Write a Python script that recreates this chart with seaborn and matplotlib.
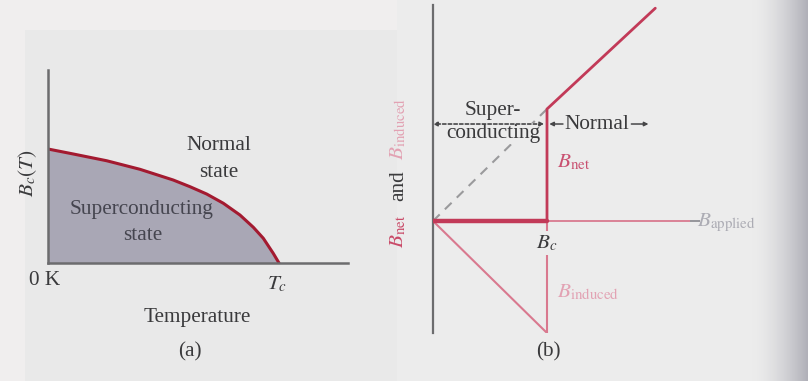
import numpy as np
import matplotlib
matplotlib.use("Agg")
import matplotlib.pyplot as plt
from matplotlib.patches import Rectangle
import seaborn as sns

# (a) critical field curve: temperature in units of Tc, field in units of Bc(0)
temp = [0.0, 0.110, 0.254, 0.398, 0.542, 0.615, 0.687, 0.759, 0.831,
        0.889, 0.932, 0.975, 1.0]
bc_curve = [1.0, 0.956, 0.897, 0.822, 0.728, 0.669, 0.605, 0.524, 0.421,
            0.313, 0.217, 0.085, 0.0]

# (b) net and induced field against applied field, in units of Bc
net_applied = [0.0, 1.0, 1.0, 1.95]
net_field = [0.0, 0.0, 1.0, 1.9]
ind_applied = [0.0, 1.0, 1.0]
ind_field = [0.0, -1.0, 0.0]
ref_applied = [0.0, 1.0]
ref_field = [0.0, 1.0]

sns.set_theme(style="white")
plt.rcParams["font.family"] = ["Liberation Serif", "DejaVu Serif"]
plt.rcParams["mathtext.fontset"] = "stix"

W, H = 808, 381
BG = "#edecec"
TXT = "#3a3a3c"
RED = "#c23a58"
DARKRED = "#a31a30"
PINK = "#d9798f"
LIGHTPINK = "#e2a2b3"
FS = 15.3

fig = plt.figure(figsize=(W / 100, H / 100), dpi=100, facecolor=BG)

# page background
bg = fig.add_axes([0, 0, 1, 1], zorder=-10)
bg.set_xlim(0, W)
bg.set_ylim(H, 0)
bg.axis("off")
bg.add_patch(Rectangle((0, 0), W, H, color="#f0eeee", lw=0))
bg.add_patch(Rectangle((25, 30), 372, H - 30, color="#e9e9e9", lw=0))
bg.add_patch(Rectangle((397, 0), W - 397, H, color="#ececec", lw=0))
g0 = np.array([0xec, 0xec, 0xec]) / 255
g1 = np.array([0xb0, 0xb0, 0xb8]) / 255
t = np.linspace(0, 1, 64) ** 1.6
grad = (g0[None, :] * (1 - t[:, None]) + g1[None, :] * t[:, None])[None, :, :]
bg.imshow(grad, extent=(752, W, H, 0), aspect="auto", zorder=1)


def px_axes(x0, y0, x1, y1):
    ax = fig.add_axes([x0 / W, 1 - y1 / H, (x1 - x0) / W, (y1 - y0) / H])
    ax.set_facecolor("none")
    ax.set_xticks([])
    ax.set_yticks([])
    return ax


# ---------------- (a) ----------------
ax_a = px_axes(48, 70, 348, 263)
ax_a.set_xlim(0, 300 / 231)
ax_a.set_ylim(0, 193 / 114)
for side in ("top", "right"):
    ax_a.spines[side].set_visible(False)
for side in ("left", "bottom"):
    ax_a.spines[side].set_color("#6c6c6e")
    ax_a.spines[side].set_linewidth(1.8)

ax_a.fill_between(temp, bc_curve, 0, color="#a9a7b5", lw=0)
sns.lineplot(x=temp, y=bc_curve, ax=ax_a, color=DARKRED, lw=2.2,
             sort=False, estimator=None)

ax_a.text(0.74, 1.035, "Normal", ha="center", va="center", fontsize=FS, color=TXT)
ax_a.text(0.74, 0.797, "state", ha="center", va="center", fontsize=FS, color=TXT)
ax_a.text(0.403, 0.465, "Superconducting", ha="center", va="center",
          fontsize=FS, color="#45454f")
ax_a.text(0.41, 0.237, "state", ha="center", va="center", fontsize=FS, color="#45454f")
ax_a.text(-0.013, -0.15, "0 K", ha="center", va="center", fontsize=FS,
          color=TXT, clip_on=False)
ax_a.text(0.99, -0.185, r"$T_c$", ha="center", va="center", fontsize=FS,
          color=TXT, clip_on=False)
ax_a.text(0.645, -0.475, "Temperature", ha="center", va="center", fontsize=FS,
          color=TXT, clip_on=False)
ax_a.text(0.615, -0.78, "(a)", ha="center", va="center", fontsize=FS,
          color=TXT, clip_on=False)
ax_a.text(-0.09, 0.79, r"$B_c(T)$", ha="center", va="center", fontsize=FS,
          color=TXT, rotation=90, clip_on=False)

# ---------------- (b) ----------------
ax_b = px_axes(433, 5, 760, 333)
ax_b.set_xlim(0, 327 / 114)
ax_b.set_ylim(-1.0, 216 / 112)
for side in ("top", "right", "bottom"):
    ax_b.spines[side].set_visible(False)
ax_b.spines["left"].set_color("#6c6c6e")
ax_b.spines["left"].set_linewidth(1.6)

# applied-field axis
ax_b.hlines(0, 0, 2.25, color=PINK, lw=1.3, zorder=1)
ax_b.hlines(0, 2.25, 2.34, color="#8e8e94", lw=1.3, zorder=1)
ax_b.text(2.32, -0.02, r"$B_{\rm applied}$", ha="left", va="center",
          fontsize=FS, color="#9c9ca6", alpha=0.8, clip_on=False)

sns.lineplot(x=ref_applied, y=ref_field, ax=ax_b, color="#9a9a9c", lw=1.5,
             sort=False, estimator=None, zorder=2)
ax_b.lines[-1].set_dashes((4.5, 3.5))
sns.lineplot(x=ind_applied, y=ind_field, ax=ax_b, color=PINK, lw=1.5,
             sort=False, estimator=None, zorder=3)
sns.lineplot(x=net_applied, y=net_field, ax=ax_b, color=RED, lw=2.0,
             sort=False, estimator=None, zorder=4)
sns.lineplot(x=net_applied[:2], y=net_field[:2], ax=ax_b, color=RED, lw=3.2,
             sort=False, estimator=None, zorder=4)

# region markers
yr = 0.866
ax_b.annotate("", xy=(0.0, yr), xytext=(0.975, yr),
              arrowprops=dict(arrowstyle="<|-|>", color="#464648", lw=1.2,
                              ls=(0, (2.0, 1.4)), mutation_scale=6,
                              shrinkA=0, shrinkB=0), zorder=7)
ax_b.annotate("", xy=(1.02, yr), xytext=(1.14, yr),
              arrowprops=dict(arrowstyle="-|>", color="#464648", lw=1.1,
                              mutation_scale=6, shrinkA=0, shrinkB=0), zorder=7)
ax_b.annotate("", xy=(1.89, yr), xytext=(1.74, yr),
              arrowprops=dict(arrowstyle="-|>", color="#464648", lw=1.1,
                              mutation_scale=6, shrinkA=0, shrinkB=0), zorder=7)
ax_b.text(0.526, 0.985, "Super-", ha="center", va="center", fontsize=FS,
          color=TXT, zorder=6)
ax_b.text(0.526, 0.78, "conducting", ha="center", va="center", fontsize=FS,
          color=TXT, zorder=6,
          bbox=dict(boxstyle="square,pad=0.05", fc="#ececec", ec="none"))
ax_b.text(1.15, yr, "Normal", ha="left", va="center", fontsize=FS,
          color=TXT, zorder=6)

ax_b.text(1.085, 0.52, r"$B_{\rm net}$", ha="left", va="center", fontsize=FS,
          color="#c95070", zorder=6)
ax_b.text(1.0, -0.2, r"$B_c$", ha="center", va="center", fontsize=FS,
          color=TXT, zorder=6,
          bbox=dict(boxstyle="square,pad=0.1", fc="#ececec", ec="none"))
ax_b.text(1.085, -0.635, r"$B_{\rm induced}$", ha="left", va="center",
          fontsize=FS, color=LIGHTPINK, zorder=6)
ax_b.text(1.009, -1.17, "(b)", ha="center", va="center", fontsize=FS,
          color=TXT, clip_on=False)

# rotated vertical-axis label in three colours
ax_b.text(-0.3, -0.09, r"$B_{\rm net}$", ha="center", va="center", fontsize=FS,
          color="#c94a68", rotation=90, clip_on=False)
ax_b.text(-0.3, 0.32, "and", ha="center", va="center", fontsize=FS,
          color=TXT, rotation=90, clip_on=False)
ax_b.text(-0.3, 0.82, r"$B_{\rm induced}$", ha="center", va="center",
          fontsize=FS, color=LIGHTPINK, rotation=90, clip_on=False)

fig.savefig("out.png", dpi=100, facecolor=BG)
